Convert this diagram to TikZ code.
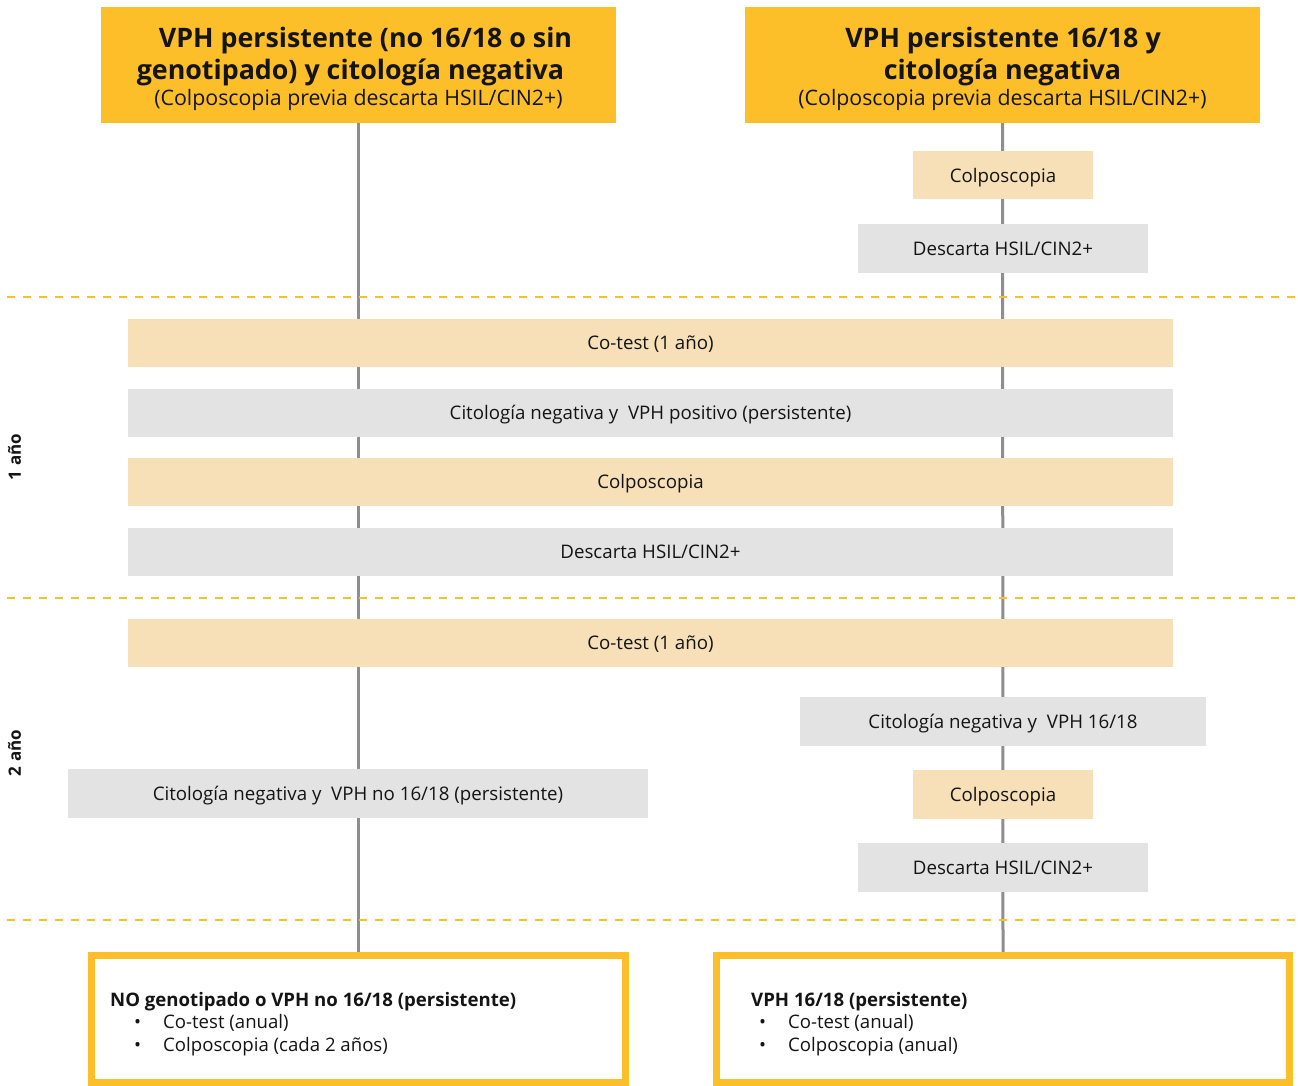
\documentclass[tikz,border=0pt]{standalone}
\usepackage{fontspec}
\setmainfont{Open Sans}
\usetikzlibrary{backgrounds}

\definecolor{amber}{RGB}{252,191,41}
\definecolor{sand}{RGB}{247,224,184}
\definecolor{mist}{RGB}{227,227,227}
\definecolor{stem}{RGB}{142,142,142}
\definecolor{ink}{RGB}{20,20,20}

\tikzset{
  body/.style={font=\fontsize{18.7}{22}\selectfont, text=ink, text height=13.4pt, text depth=0pt},
  headbox/.style={rectangle, fill=amber, inner sep=0pt, minimum width=515pt, minimum height=116pt},
  headtitle/.style={anchor=base, inner sep=0pt, text=ink, font=\fontsize{26.8}{32}\selectfont\bfseries},
  headnote/.style={anchor=base, inner sep=0pt, text=ink, font=\fontsize{21.3}{25}\selectfont},
  tanbox/.style={rectangle, fill=sand, inner sep=0pt, minimum height=48pt, body},
  greybox/.style={rectangle, fill=mist, inner sep=0pt, minimum height=49pt, body},
  endbox/.style={rectangle, draw=amber, line width=7pt, inner sep=0pt, fill=white},
  endtext/.style={anchor=north west, align=left, inner sep=0pt, text=ink, font=\fontsize{18.6}{22.5}\selectfont},
  yearsep/.style={draw=amber, line width=2.6pt, dash pattern=on 8pt off 8pt},
  stemline/.style={draw=stem, line width=3pt},
  yearlabel/.style={rotate=90, font=\fontsize{17}{20}\selectfont\bfseries, text=ink},
}

\newcommand{\bulletrow}[2]{\hspace*{#1}\makebox[29pt][l]{•}#2}

\begin{document}
\begin{tikzpicture}[x=1pt, y=-1pt]
  \useasboundingbox (0,0) rectangle (1298,1086);

  % column headers
  \node[headbox] (hl) at (358.5,65) {};
  \node[headtitle] (hl1) at (365.5,47.2) {VPH persistente (no 16/18 o sin};
  \node[headtitle] (hl2) at (350.5,79.6) {genotipado) y citología negativa};
  \node[headnote] (hl3) at (358.5,105.3) {(Colposcopia previa descarta HSIL/CIN2+)};

  \node[headbox] (hr) at (1002.5,65) {};
  \node[headtitle] (hr1) at (1003,47.2) {VPH persistente 16/18 y};
  \node[headtitle] (hr2) at (1002.5,79.6) {citología negativa};
  \node[headnote] (hr3) at (1002.5,105.3) {(Colposcopia previa descarta HSIL/CIN2+)};

  % right column, before the first year
  \node[tanbox, minimum width=180pt] (rc0) at (1003,175.5) {Colposcopia};
  \node[greybox, minimum width=290pt] (rd0) at (1003,248.5) {Descarta HSIL/CIN2+};

  % first year, shared by both columns
  \node[tanbox, minimum width=1045pt] (ct1) at (650.5,343) {Co-test (1 año)};
  \node[greybox, minimum width=1045pt, minimum height=48pt] (cn1) at (650.5,413) {Citología negativa y\ \ VPH positivo (persistente)};
  \node[tanbox, minimum width=1045pt] (cp1) at (650.5,482) {Colposcopia};
  \node[greybox, minimum width=1045pt, minimum height=48pt] (ds1) at (650.5,552) {Descarta HSIL/CIN2+};

  % second year
  \node[tanbox, minimum width=1045pt] (ct2) at (650.5,643) {Co-test (1 año)};
  \node[greybox, minimum width=406pt] (rn2) at (1003,721.5) {Citología negativa y\ \ VPH 16/18};
  \node[greybox, minimum width=580pt] (ln2) at (358,793.5) {Citología negativa y\ \ VPH no 16/18 (persistente)};
  \node[tanbox, minimum width=180pt, minimum height=49pt] (rc2) at (1003,794.5) {Colposcopia};
  \node[greybox, minimum width=290pt] (rd2) at (1003,867.5) {Descarta HSIL/CIN2+};

  % follow-up outcomes
  \node[endbox, minimum width=534pt, minimum height=127pt] (bl) at (358.5,1019) {};
  \node[endbox, minimum width=573pt, minimum height=127pt] (br) at (1003,1019) {};
  \node[endtext] (blt) at (110,992)
    {\textbf{NO genotipado o VPH no 16/18 (persistente)}\\\bulletrow{24pt}{Co-test (anual)}\\\bulletrow{24pt}{Colposcopia (cada 2 años)}};
  \node[endtext] (brt) at (751,992)
    {\textbf{VPH 16/18 (persistente)}\\\bulletrow{8pt}{Co-test (anual)}\\\bulletrow{8pt}{Colposcopia (anual)}};

  % year separators
  \draw[yearsep] (7,297) -- (1298,297);
  \draw[yearsep] (7,598) -- (1298,598);
  \draw[yearsep] (7,920) -- (1298,920);

  % year labels
  \node[yearlabel] (y1) at (14.5,457) {1 año};
  \node[yearlabel] (y2) at (14.5,753) {2 año};

  % column stems behind the boxes
  \begin{scope}[on background layer]
    \draw[stemline] (hl.south) -- (bl.north);
    \draw[stemline] (hr.south) -- (br.north);
  \end{scope}
\end{tikzpicture}
\end{document}
